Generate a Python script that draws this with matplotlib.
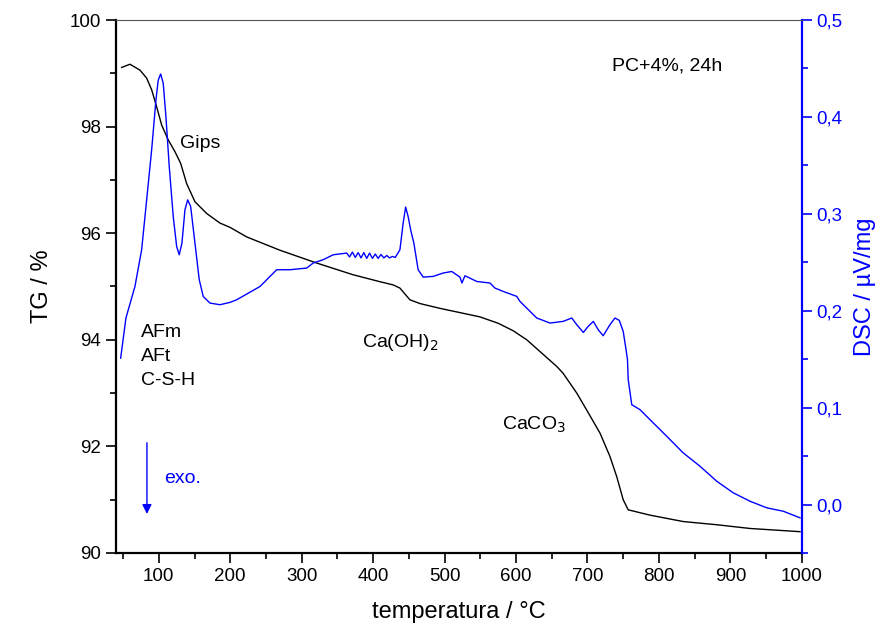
import numpy as np
import matplotlib
matplotlib.use("Agg")
import matplotlib.pyplot as plt
from matplotlib.ticker import MultipleLocator, FuncFormatter

plt.rcParams['font.family'] = ['Liberation Sans', 'DejaVu Sans']

# TG curve (temperature in C, mass in %)
tg_temp = [48, 59.6, 73.6, 83, 90, 97, 104, 113.2, 122.6, 130.6, 139, 150.6, 167, 185.6, 199.6,
           223, 269.6, 321, 372, 409.5, 428, 437.5, 451.5, 465.5, 493.5, 549.5, 575, 596, 615,
           633.5, 657, 666, 685, 699, 717.5, 731.5, 741, 750, 757, 787.5, 834, 881, 927.5, 997.5]
tg_val = [99.11, 99.17, 99.06, 98.91, 98.69, 98.37, 98.03, 97.75, 97.53, 97.31, 96.93, 96.59, 96.37, 96.19, 96.11,
          95.93, 95.68, 95.44, 95.22, 95.09, 95.03, 94.97, 94.75, 94.68, 94.59, 94.43, 94.31, 94.17, 94.0,
          93.78, 93.50, 93.37, 93.0, 92.68, 92.25, 91.81, 91.43, 91.0, 90.81, 90.71, 90.59, 90.53, 90.46, 90.40]

# DSC curve (temperature in C, signal in uV/mg)
dsc_temp = [46.6, 54, 66.6, 76, 83, 90, 96, 99.2, 102.6, 106.2, 110, 114.6, 120.2, 125, 128.6,
            132.4, 136.6, 140.4, 144.6, 150.6, 156.6, 162.2, 171.6, 185.6, 199.6, 209, 241.6, 265,
            283.6, 307, 316, 330, 344,
            363, 367, 371, 375, 379, 383, 387, 391, 395, 399, 403, 407, 411,
            415, 419, 423, 427, 431,
            437.5, 442, 445.5, 449, 452.5, 457, 463, 470, 484, 498, 510, 521.5, 524.3, 528.5,
            545, 563.5, 570.5, 582, 601, 605.5, 629, 647.5, 666, 678, 685, 694.2, 701, 708.2,
            715, 722, 731.5, 738.5, 744.6, 750, 754, 756, 757, 762, 773.5, 787.5, 811, 834,
            857.5, 881, 904, 927.5, 951, 974, 997.5]
dsc_val = [0.151, 0.1925, 0.225, 0.263, 0.3144, 0.366, 0.4175, 0.438, 0.4443, 0.4347, 0.400, 0.349, 0.2972, 0.2663, 0.2577,
           0.2698, 0.3041, 0.3144, 0.3076, 0.2698, 0.232, 0.2147, 0.2079, 0.2062, 0.2086, 0.2113, 0.225, 0.2423,
           0.2423, 0.244, 0.2492, 0.2526, 0.2577,
           0.2595, 0.2555, 0.2605, 0.2550, 0.2600, 0.2545, 0.2600, 0.2540, 0.2595, 0.2540, 0.2585, 0.2540, 0.2580,
           0.2545, 0.2570, 0.2545, 0.2560, 0.2550,
           0.2629, 0.2904, 0.307, 0.2972, 0.2835, 0.2698, 0.2423, 0.2347, 0.2354, 0.2389, 0.2405, 0.2347, 0.2286, 0.2361,
           0.2302, 0.2286, 0.2234, 0.2199, 0.2148, 0.2096, 0.1925, 0.1873, 0.189, 0.1925, 0.1856, 0.1776, 0.1838, 0.189,
           0.1804, 0.1742, 0.1856, 0.1925, 0.19, 0.1787, 0.1598, 0.1495, 0.129, 0.103, 0.0979, 0.0876, 0.0704, 0.0533,
           0.0395, 0.0240, 0.0121, 0.0034, -0.0034, -0.0069, -0.0137]

blue = '#0000ff'

fig = plt.figure(figsize=(8.85, 6.39), dpi=100)
ax = fig.add_axes([0.131, 0.1346, 0.775, 0.8341])
ax2 = ax.twinx()

ax.plot(tg_temp, tg_val, color='black', lw=1.0)
ax2.plot(dsc_temp, dsc_val, color=blue, lw=1.0)

ax.set_xlim(40, 1000)
ax.set_ylim(90, 100)
ax2.set_ylim(-0.05, 0.5)

ax.xaxis.set_major_locator(MultipleLocator(100))
ax.xaxis.set_minor_locator(MultipleLocator(50))
ax.yaxis.set_major_locator(MultipleLocator(2))
ax.yaxis.set_minor_locator(MultipleLocator(1))
ax2.yaxis.set_major_locator(MultipleLocator(0.1))
ax2.yaxis.set_minor_locator(MultipleLocator(0.05))
ax2.yaxis.set_major_formatter(FuncFormatter(lambda v, p: ('%.1f' % v).replace('.', ',').replace('-0,0', '0,0')))

ax.tick_params(which='major', direction='out', length=7, width=1.2, labelsize=13.5)
ax.tick_params(which='minor', direction='out', length=4, width=1.2)
ax2.tick_params(which='major', direction='out', length=7, width=1.2, labelsize=13.5, colors=blue)
ax2.tick_params(which='minor', direction='out', length=4, width=1.2, colors=blue)

for s in ['left', 'bottom']:
    ax.spines[s].set_linewidth(1.6)
ax2.spines['right'].set_color(blue)
ax2.spines['right'].set_linewidth(1.6)
ax2.spines['top'].set_color('#555555')
ax2.spines['left'].set_visible(False)
ax2.spines['bottom'].set_visible(False)
ax.spines['right'].set_visible(False)
ax.spines['top'].set_visible(False)

ax.set_xlabel('temperatura / °C', fontsize=17, labelpad=12)
ax.set_ylabel('TG / %', fontsize=17, labelpad=12)
ax2.set_ylabel('DSC / µV/mg', fontsize=17, color=blue, labelpad=8)

ax.text(129.6, 97.69, 'Gips', fontsize=14, va='center')
ax.text(735, 99.14, 'PC+4%, 24h', fontsize=14, va='center')
ax.text(75, 94.13, 'AFm', fontsize=14, va='center')
ax.text(75, 93.68, 'AFt', fontsize=14, va='center')
ax.text(75, 93.23, 'C-S-H', fontsize=14, va='center')
ax.text(384, 93.94, 'Ca(OH)$_2$', fontsize=14, va='center')
ax.text(581, 92.4, 'CaCO$_3$', fontsize=14, va='center')
ax.text(107, 91.39, 'exo.', fontsize=14, va='center', color=blue)
ax.annotate('', xy=(83.4, 90.68), xytext=(83.4, 92.12),
            arrowprops=dict(arrowstyle='-|>', color=blue, lw=1.0, mutation_scale=14))

fig.savefig('out.png', dpi=100)
